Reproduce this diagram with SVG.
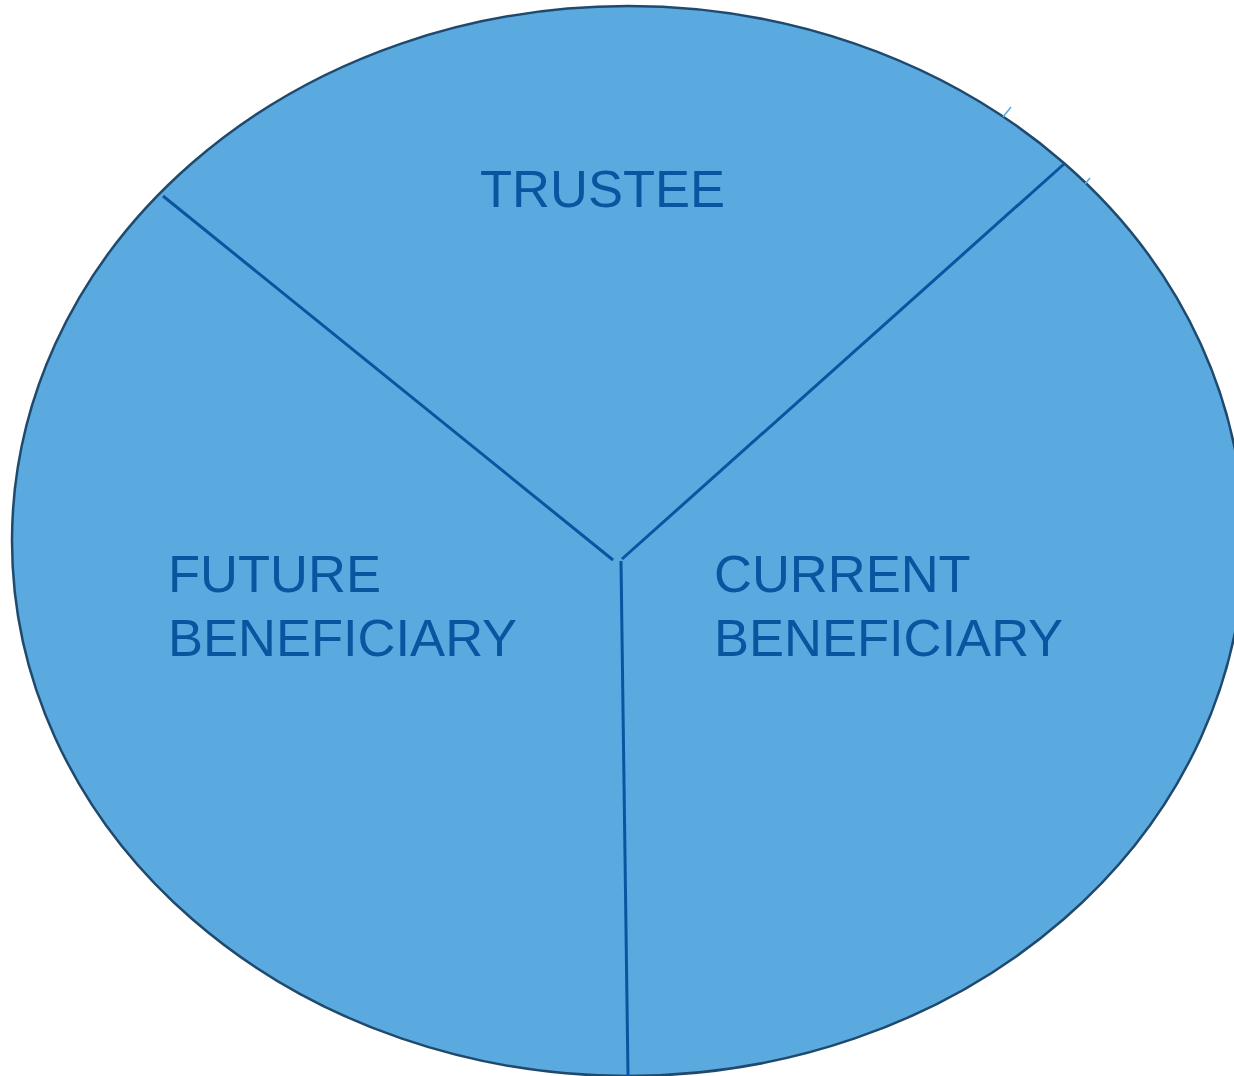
<svg xmlns="http://www.w3.org/2000/svg" width="1234" height="1076" viewBox="0 0 1234 1076">
  <style>
    .pie { fill: #5aaae0; stroke: #1f4a6e; stroke-width: 2.5; }
    .divider { stroke: #0a54a0; stroke-width: 3; fill: none; }
    .tick { stroke: #5aaae0; stroke-width: 1.5; }
    .label { font-family: "Liberation Sans", Arial, sans-serif; font-size: 52.5px; fill: #0a54a0; }
  </style>
  <rect width="1234" height="1076" fill="#ffffff"/>
  <g id="circle">
    <ellipse class="pie" cx="628" cy="541" rx="616" ry="535"/>
    <line class="tick" x1="1003" y1="117" x2="1011" y2="107"/>
    <line class="tick" x1="1085" y1="184" x2="1090" y2="178"/>
  </g>
  <g id="connectors">
    <line class="divider" x1="163" y1="196" x2="613" y2="560"/>
    <line class="divider" x1="1064" y1="164" x2="622" y2="559"/>
    <line class="divider" x1="621" y1="561" x2="628" y2="1076"/>
  </g>
  <g id="trustee">
    <text class="label" x="480" y="207">TRUSTEE</text>
  </g>
  <g id="future-beneficiary">
    <text class="label" x="168" y="592">FUTURE</text>
    <text class="label" x="168" y="656">BENEFICIARY</text>
  </g>
  <g id="current-beneficiary">
    <text class="label" x="714" y="592">CURRENT</text>
    <text class="label" x="714" y="656">BENEFICIARY</text>
  </g>
</svg>
